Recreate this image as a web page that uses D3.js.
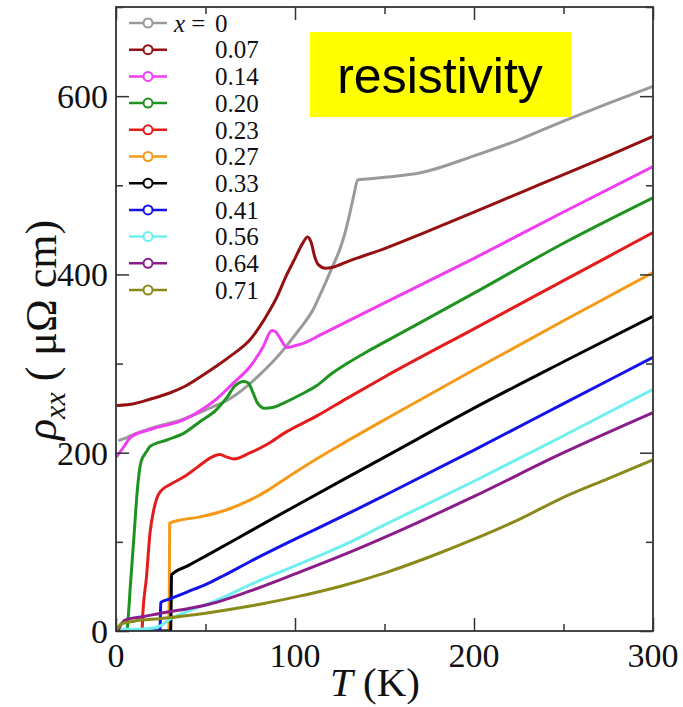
<!DOCTYPE html>
<html>
<head>
<meta charset="utf-8">
<script src="https://cdn.jsdelivr.net/npm/d3@7"></script>
<style>
  html, body { margin: 0; padding: 0; background: #fff; }
  svg { display: block; }
</style>
</head>
<body>
<svg id="chart" width="683" height="707"></svg>
<script>
// Resistivity rho_xx (µΩ cm) versus temperature T (K), one curve per composition x.
const compositions = ["0", "0.07", "0.14", "0.20", "0.23", "0.27", "0.33", "0.41", "0.56", "0.64", "0.71"];
const seriesColors = ["#9a9a9a", "#951010", "#f23cf2", "#1f931f", "#e51c1c", "#f59a18", "#000000", "#1212ea", "#6fefef", "#8b1d8b", "#8a8a1a"];

// [T, rho] pairs per composition
const rhoX000 = [[2,214],[5,216],[8,219],[19,227],[38,238],[50,248],[64,261],[79,285],[95,319],[100,332],[105,345],[110,360],[114,377],[118,395],[121,409],[125,428],[128,447],[131,472],[133,490],[135,506],[140,507],[150,509],[170,514],[200,533],[225,551],[250,572],[275,592],[300,611]];
const rhoX007 = [[1,253],[10,255],[19,260],[30,267],[38,274],[47,285],[56,297],[65,310],[75,327],[83,350],[90,375],[95,398],[100,418],[104,434],[107,442],[109,436],[111,420],[113,411],[117,407],[121,408],[130,415],[150,429],[170,445],[200,470],[225,491],[250,512],[275,533],[300,555]];
const rhoX014 = [[0.5,196],[2,200],[4.5,207],[8,217],[19,226],[38,237],[50,251],[56,260],[65,277],[75,297],[82,318],[87,337],[89,336],[91.5,329],[95.5,318],[100,320],[105,323],[115,333],[129,347],[150,368],[200,418],[250,470],[300,521]];
const rhoX020 = [[2,0],[6,0],[7,20],[8,50],[10,105],[12,160],[14,190],[17,201],[19,207],[28,214],[38,222],[47,235],[56,248],[62,262],[66,274],[71.5,280],[74,278],[76,270],[79,256],[83,250],[88,251],[94,256],[103,265],[112,275],[120,288],[129,300],[140,313],[150,324],[200,379],[250,435],[300,486]];
const rhoX023 = [[2,0],[14.5,0],[15,20],[17,60],[19,110],[21,135],[23,150],[25,157],[30,164],[38,173],[45,183],[52.5,194],[58,198],[62,195],[66,193],[75,200],[85,210],[94,222],[112,241],[129,261],[150,285],[200,339],[250,393],[300,447]];
const rhoX027 = [[2,0],[29.5,0],[29.8,60],[30,121],[35,124],[47,128],[62,136],[75,147],[85,158],[94,170],[112,193],[129,213],[150,237],[200,293],[250,348],[300,402]];
const rhoX033 = [[2,0],[30.5,0],[30.8,30],[31,63],[40,73],[50,84],[75,112],[100,140],[129,172],[150,195],[200,250],[250,302],[300,353]];
const rhoX041 = [[2,0],[17,0],[24.5,0],[24.8,15],[25,32],[30,36],[40,44],[50,52],[60,62],[75,78],[100,103],[129,131],[150,152],[200,203],[250,255],[300,307]];
const rhoX056 = [[2,2],[10,2],[20,3],[25,6],[30,13],[40,22],[52,31],[58,36],[75,52],[100,73],[129,98],[150,119],[200,168],[250,219],[300,271]];
const rhoX064 = [[1,0],[3,8],[6,13],[15,16],[25,20],[40,25],[52,30],[75,45],[100,64],[129,87],[150,105],[200,151],[250,200],[300,245]];
const rhoX071 = [[0.5,2],[3,8],[10,11],[25,14],[50,20],[75,28],[100,38],[125,50],[150,65],[175,83],[200,103],[225,125],[250,150],[275,171],[300,192]];

const seriesData = [rhoX000, rhoX007, rhoX014, rhoX020, rhoX023, rhoX027, rhoX033, rhoX041, rhoX056, rhoX064, rhoX071];

const xMajorTicks = [0, 100, 200, 300];
const xMinorTicks = [50, 150, 250];
const yMajorTicks = [0, 200, 400, 600];
const yMinorTicks = [100, 300, 500, 700];

const svg = d3.select("#chart");
const plot = { left: 116, right: 653, top: 7, bottom: 631 };

const x = d3.scaleLinear().domain([0, 300]).range([plot.left, plot.right]);
const y = d3.scaleLinear().domain([0, 700]).range([plot.bottom, plot.top]);

const serif = "'Liberation Serif', 'Times New Roman', serif";
const frameColor = "#333";

// curves
const line = d3.line()
  .x(d => x(d[0]))
  .y(d => y(d[1]))
  .curve(d3.curveMonotoneX);

svg.append("clipPath").attr("id", "plotClip")
  .append("rect")
  .attr("x", plot.left).attr("y", plot.top)
  .attr("width", plot.right - plot.left).attr("height", plot.bottom - plot.top);
const curves = svg.append("g").attr("clip-path", "url(#plotClip)");

seriesData.forEach((s, i) => {
  curves.append("path")
    .datum(s)
    .attr("d", line)
    .attr("fill", "none")
    .attr("stroke", seriesColors[i])
    .attr("stroke-width", 3)
    .attr("stroke-linejoin", "round")
    .attr("stroke-linecap", "round");
});

// frame and inward ticks on all four sides
const major = 13, minor = 7;
function tickAxis(gen, transform, values, size) {
  const g = svg.append("g").attr("transform", transform)
    .call(gen.tickValues(values).tickSize(size).tickFormat(""));
  g.select(".domain").remove();
  g.selectAll("line").attr("stroke", frameColor).attr("stroke-width", 1.5);
}
tickAxis(d3.axisBottom(x), `translate(0,${plot.bottom})`, xMajorTicks, -major);
tickAxis(d3.axisBottom(x), `translate(0,${plot.bottom})`, xMinorTicks, -minor);
tickAxis(d3.axisTop(x), `translate(0,${plot.top})`, xMajorTicks, -major);
tickAxis(d3.axisTop(x), `translate(0,${plot.top})`, xMinorTicks, -minor);
tickAxis(d3.axisLeft(y), `translate(${plot.left},0)`, yMajorTicks, -major);
tickAxis(d3.axisLeft(y), `translate(${plot.left},0)`, yMinorTicks, -minor);
tickAxis(d3.axisRight(y), `translate(${plot.right},0)`, yMajorTicks, -major);
tickAxis(d3.axisRight(y), `translate(${plot.right},0)`, yMinorTicks, -minor);

svg.append("rect")
  .attr("x", plot.left).attr("y", plot.top)
  .attr("width", plot.right - plot.left).attr("height", plot.bottom - plot.top)
  .attr("fill", "none").attr("stroke", frameColor).attr("stroke-width", 1.8);

// tick labels
svg.append("g").selectAll("text").data(xMajorTicks).join("text")
  .attr("x", d => x(d)).attr("y", 667)
  .attr("text-anchor", "middle")
  .attr("font-family", serif).attr("font-size", 34).attr("fill", "#111")
  .text(d => d);

svg.append("g").selectAll("text").data(yMajorTicks).join("text")
  .attr("x", 108).attr("y", d => y(d))
  .attr("dy", "0.35em")
  .attr("text-anchor", "end")
  .attr("font-family", serif).attr("font-size", 34).attr("fill", "#111")
  .text(d => d);

// axis titles
const xTitle = svg.append("text")
  .attr("x", 375).attr("y", 696)
  .attr("text-anchor", "middle")
  .attr("font-family", serif).attr("font-size", 41).attr("fill", "#111");
xTitle.append("tspan").attr("font-style", "italic").text("T");
xTitle.append("tspan").text(" (K)");

const yTitle = svg.append("text")
  .attr("transform", "translate(56,330) rotate(-90)")
  .attr("text-anchor", "middle")
  .attr("font-family", serif).attr("font-size", 44).attr("fill", "#111");
yTitle.append("tspan").attr("font-style", "italic").text("ρ");
yTitle.append("tspan").attr("font-style", "italic").attr("font-size", 30).attr("dy", 9).text("xx");
yTitle.append("tspan").attr("dy", -9).text(" ( μΩ cm)");

// legend
const legend = svg.append("g");
compositions.forEach((c, i) => {
  const cy = 23 + i * 26.7;
  legend.append("line")
    .attr("x1", 129).attr("x2", 167).attr("y1", cy).attr("y2", cy)
    .attr("stroke", seriesColors[i]).attr("stroke-width", 2.5);
  legend.append("circle")
    .attr("cx", 148).attr("cy", cy).attr("r", 4.5)
    .attr("fill", "#fff").attr("stroke", seriesColors[i]).attr("stroke-width", 2);
  legend.append("text")
    .attr("x", 215).attr("y", cy).attr("dy", "0.35em")
    .attr("font-family", serif).attr("font-size", 25).attr("fill", "#111")
    .text(c);
});
legend.append("text")
  .attr("x", 174).attr("y", 23).attr("dy", "0.35em")
  .attr("font-family", serif).attr("font-size", 25).attr("fill", "#111")
  .call(t => {
    t.append("tspan").attr("font-style", "italic").text("x");
    t.append("tspan").text(" =");
  });

// label box
svg.append("rect")
  .attr("x", 310).attr("y", 32).attr("width", 261).attr("height", 85)
  .attr("fill", "#ffff00");
svg.append("text")
  .attr("x", 440).attr("y", 93)
  .attr("text-anchor", "middle")
  .attr("font-family", "'Liberation Sans', Arial, sans-serif")
  .attr("font-size", 50).attr("fill", "#000")
  .text("resistivity");
</script>
</body>
</html>
